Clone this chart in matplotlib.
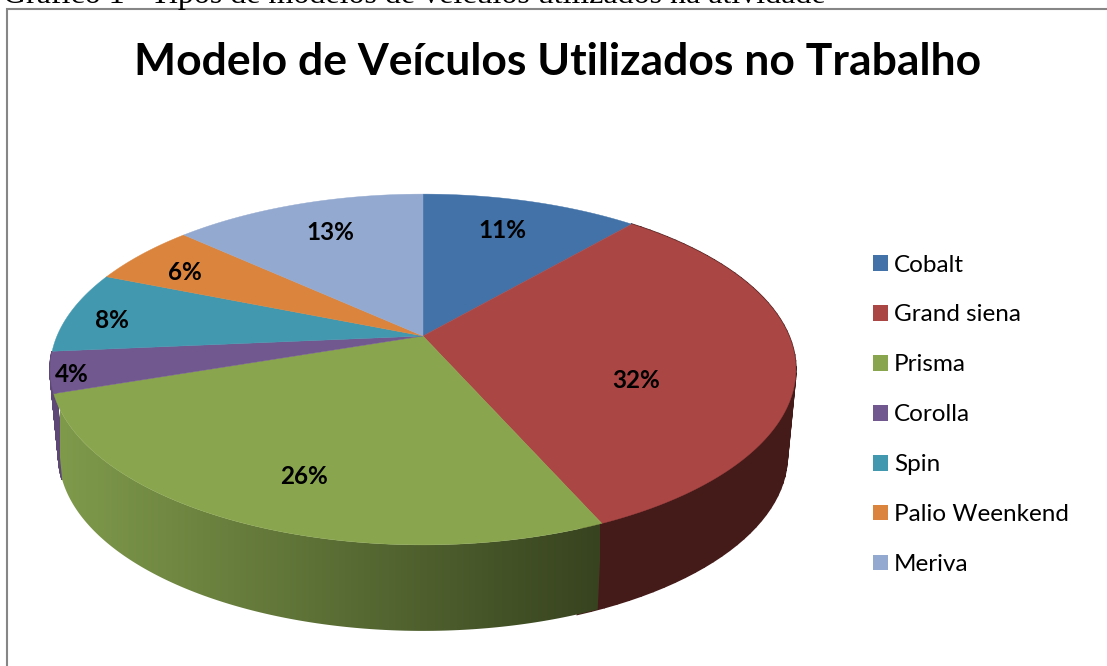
import numpy as np
import matplotlib
matplotlib.use('Agg')
import matplotlib.pyplot as plt
from matplotlib.patches import Polygon, Patch, Rectangle

modelos = ['Cobalt', 'Grand siena', 'Prisma', 'Corolla', 'Spin', 'Palio Weenkend', 'Meriva']
valores = [6, 17, 14, 2, 4, 3, 7]
cores = ['#4272a8', '#aa4644', '#89a54e', '#71588f', '#4198af', '#db843d', '#93a9cf']
titulo = 'Modelo de Veículos Utilizados no Trabalho'
legenda_fig = 'Gráfico 1 - Tipos de modelos de veículos utilizados na atividade'

# onde fica cada rotulo (pixels da figura)
pos_rotulos = [(502, 230), (636, 381), (304, 477), (72, 374), (112, 320), (185, 272), (330, 232)]

# perspectiva do disco
cx, cy = 423, 336
a, b, k = 366, 169, 0.191
prof = 86
esc_base = 0.977


def topo(ang):
    # angulo em graus, sentido horario a partir do topo
    t = np.radians(ang)
    X, Y = np.sin(t), np.cos(t)
    return cx + a * X / (1 + k * Y), cy - b * Y / (1 + k * Y)


def base(ang):
    x, y = topo(ang)
    return cx + (x - cx) * esc_base, y + prof


def parede(ini, fim, cor, zorder=2):
    # faixas entre o arco de cima e o de baixo
    angs = np.linspace(ini, fim, 61)
    xt, yt = topo(angs)
    xb, yb = base(angs)
    for j in range(len(angs) - 1):
        ax.fill([xt[j], xt[j + 1], xb[j + 1], xb[j]], [yt[j], yt[j + 1], yb[j + 1], yb[j]],
                fc=cor, ec=cor, lw=1.2, zorder=zorder)


fig = plt.figure(figsize=(11.07, 6.66), dpi=100)
ax = fig.add_axes([0, 0, 1, 1])
ax.axis('off')

ax.add_patch(Rectangle((7, 9), 1120, 680, fc='white', ec='#868686', lw=1.5, zorder=0))

limites = np.cumsum([0] + valores) * 360 / sum(valores)

# parede lateral: fatias de tras para frente
parede(limites[3], limites[4], '#5d4876')
parede(limites[1], limites[2] + 3, '#451b1a')

# parede do Prisma com degrade da esquerda para a direita
c_esq = np.array(matplotlib.colors.to_rgb('#7f9a4b'))
c_dir = np.array(matplotlib.colors.to_rgb('#37431f'))
grad = np.linspace(0, 1, 256)[None, :, None]
img = ax.imshow(c_esq + (c_dir - c_esq) * grad, extent=(60, 600, 640, 390), aspect='auto', zorder=2.5)
angs_v = np.linspace(limites[2], limites[3], 150)
xt, yt = topo(angs_v)
xb, yb = base(angs_v)
verde = Polygon(np.column_stack([np.r_[xt, xb[::-1]], np.r_[yt, yb[::-1]]]), transform=ax.transData, fc='none', ec='none')
ax.add_patch(verde)
img.set_clip_path(verde)

# tampa do disco
for i, cor in enumerate(cores):
    angs = np.linspace(limites[i], limites[i + 1], 120)
    x, y = topo(angs)
    pts = np.column_stack([np.r_[cx, x], np.r_[cy, y]])
    ax.add_patch(Polygon(pts, fc=cor, ec=cor, lw=0.3, zorder=3))

total = sum(valores)
for val, (x, y) in zip(valores, pos_rotulos):
    ax.text(x, y, f'{val / total:.0%}', family='Lato', fontweight='bold', fontsize=17.5, color='black',
            ha='center', va='center', zorder=5)

ax.text(558, 62, titulo, family='Lato', fontweight='bold', fontsize=32, color='black',
        ha='center', va='center')
ax.text(3, 3, legenda_fig, family='Liberation Serif', fontsize=23, color='black',
        ha='left', va='baseline')

handles = [Patch(fc=c, ec='none', label=m) for m, c in zip(modelos, cores)]
ax.legend(handles=handles, loc='upper left', bbox_to_anchor=(873, 254.5), bbox_transform=ax.transData,
          frameon=False, handlelength=0.62, handleheight=0.62, handletextpad=0.25,
          labelspacing=1.19, borderpad=0, borderaxespad=0, prop={'family': 'Lato', 'size': 17.5})

ax.set_xlim(0, 1107)
ax.set_ylim(666, 0)

fig.savefig('out.png', dpi=100)
